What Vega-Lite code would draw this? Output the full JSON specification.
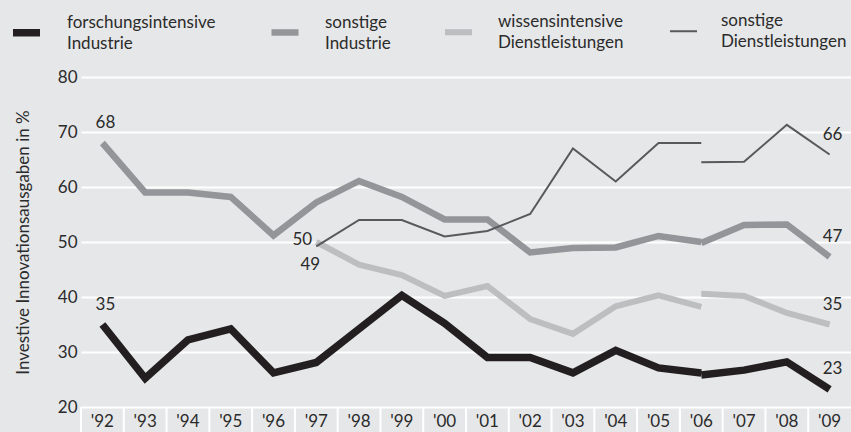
{
  "$schema": "https://vega.github.io/schema/vega-lite/v6.json",
  "width": 770,
  "height": 330,
  "autosize": {"type": "none"},
  "padding": {"left": 81, "top": 77, "right": 0, "bottom": 25},
  "background": "#e6e7e8",
  "config": {
    "view": {"stroke": null},
    "font": "Lato",
    "style": {"guide-label": {"lineHeight": 21, "lineBreak": "\n"}}
  },
  "data": {
    "values": [
      {"s": "forschungsintensive Industrie", "y": "'92", "v": 35, "g": "a"},
      {"s": "forschungsintensive Industrie", "y": "'93", "v": 25.2, "g": "a"},
      {"s": "forschungsintensive Industrie", "y": "'94", "v": 32.2, "g": "a"},
      {"s": "forschungsintensive Industrie", "y": "'95", "v": 34.2, "g": "a"},
      {"s": "forschungsintensive Industrie", "y": "'96", "v": 26.2, "g": "a"},
      {"s": "forschungsintensive Industrie", "y": "'97", "v": 28.1, "g": "a"},
      {"s": "forschungsintensive Industrie", "y": "'98", "v": 34.2, "g": "a"},
      {"s": "forschungsintensive Industrie", "y": "'99", "v": 40.3, "g": "a"},
      {"s": "forschungsintensive Industrie", "y": "'00", "v": 35.2, "g": "a"},
      {"s": "forschungsintensive Industrie", "y": "'01", "v": 29, "g": "a"},
      {"s": "forschungsintensive Industrie", "y": "'02", "v": 29, "g": "a"},
      {"s": "forschungsintensive Industrie", "y": "'03", "v": 26.2, "g": "a"},
      {"s": "forschungsintensive Industrie", "y": "'04", "v": 30.3, "g": "a"},
      {"s": "forschungsintensive Industrie", "y": "'05", "v": 27.1, "g": "a"},
      {"s": "forschungsintensive Industrie", "y": "'06", "v": 26.2, "g": "a"},
      {"s": "forschungsintensive Industrie", "y": "'06", "v": 25.8, "g": "b"},
      {"s": "forschungsintensive Industrie", "y": "'07", "v": 26.7, "g": "b"},
      {"s": "forschungsintensive Industrie", "y": "'08", "v": 28.2, "g": "b"},
      {"s": "forschungsintensive Industrie", "y": "'09", "v": 23.2, "g": "b"},
      {"s": "sonstige Industrie", "y": "'92", "v": 68, "g": "a"},
      {"s": "sonstige Industrie", "y": "'93", "v": 59, "g": "a"},
      {"s": "sonstige Industrie", "y": "'94", "v": 59, "g": "a"},
      {"s": "sonstige Industrie", "y": "'95", "v": 58.2, "g": "a"},
      {"s": "sonstige Industrie", "y": "'96", "v": 51.2, "g": "a"},
      {"s": "sonstige Industrie", "y": "'97", "v": 57.2, "g": "a"},
      {"s": "sonstige Industrie", "y": "'98", "v": 61.1, "g": "a"},
      {"s": "sonstige Industrie", "y": "'99", "v": 58.2, "g": "a"},
      {"s": "sonstige Industrie", "y": "'00", "v": 54.1, "g": "a"},
      {"s": "sonstige Industrie", "y": "'01", "v": 54.1, "g": "a"},
      {"s": "sonstige Industrie", "y": "'02", "v": 48.1, "g": "a"},
      {"s": "sonstige Industrie", "y": "'03", "v": 48.9, "g": "a"},
      {"s": "sonstige Industrie", "y": "'04", "v": 49, "g": "a"},
      {"s": "sonstige Industrie", "y": "'05", "v": 51.1, "g": "a"},
      {"s": "sonstige Industrie", "y": "'06", "v": 50, "g": "a"},
      {"s": "sonstige Industrie", "y": "'06", "v": 49.8, "g": "b"},
      {"s": "sonstige Industrie", "y": "'07", "v": 53.1, "g": "b"},
      {"s": "sonstige Industrie", "y": "'08", "v": 53.2, "g": "b"},
      {"s": "sonstige Industrie", "y": "'09", "v": 47.3, "g": "b"},
      {"s": "wissensintensive Dienstleistungen", "y": "'97", "v": 50, "g": "a"},
      {"s": "wissensintensive Dienstleistungen", "y": "'98", "v": 45.9, "g": "a"},
      {"s": "wissensintensive Dienstleistungen", "y": "'99", "v": 44, "g": "a"},
      {"s": "wissensintensive Dienstleistungen", "y": "'00", "v": 40.2, "g": "a"},
      {"s": "wissensintensive Dienstleistungen", "y": "'01", "v": 42, "g": "a"},
      {"s": "wissensintensive Dienstleistungen", "y": "'02", "v": 36, "g": "a"},
      {"s": "wissensintensive Dienstleistungen", "y": "'03", "v": 33.3, "g": "a"},
      {"s": "wissensintensive Dienstleistungen", "y": "'04", "v": 38.3, "g": "a"},
      {"s": "wissensintensive Dienstleistungen", "y": "'05", "v": 40.3, "g": "a"},
      {"s": "wissensintensive Dienstleistungen", "y": "'06", "v": 38.2, "g": "a"},
      {"s": "wissensintensive Dienstleistungen", "y": "'06", "v": 40.6, "g": "b"},
      {"s": "wissensintensive Dienstleistungen", "y": "'07", "v": 40.2, "g": "b"},
      {"s": "wissensintensive Dienstleistungen", "y": "'08", "v": 37.1, "g": "b"},
      {"s": "wissensintensive Dienstleistungen", "y": "'09", "v": 35, "g": "b"},
      {"s": "sonstige Dienstleistungen", "y": "'97", "v": 49.2, "g": "a"},
      {"s": "sonstige Dienstleistungen", "y": "'98", "v": 54, "g": "a"},
      {"s": "sonstige Dienstleistungen", "y": "'99", "v": 54, "g": "a"},
      {"s": "sonstige Dienstleistungen", "y": "'00", "v": 51, "g": "a"},
      {"s": "sonstige Dienstleistungen", "y": "'01", "v": 52, "g": "a"},
      {"s": "sonstige Dienstleistungen", "y": "'02", "v": 55.1, "g": "a"},
      {"s": "sonstige Dienstleistungen", "y": "'03", "v": 67, "g": "a"},
      {"s": "sonstige Dienstleistungen", "y": "'04", "v": 61, "g": "a"},
      {"s": "sonstige Dienstleistungen", "y": "'05", "v": 68, "g": "a"},
      {"s": "sonstige Dienstleistungen", "y": "'06", "v": 68, "g": "a"},
      {"s": "sonstige Dienstleistungen", "y": "'06", "v": 64.5, "g": "b"},
      {"s": "sonstige Dienstleistungen", "y": "'07", "v": 64.6, "g": "b"},
      {"s": "sonstige Dienstleistungen", "y": "'08", "v": 71.3, "g": "b"},
      {"s": "sonstige Dienstleistungen", "y": "'09", "v": 65.9, "g": "b"}
    ]
  },
  "encoding": {
    "x": {
      "field": "y",
      "type": "ordinal",
      "sort": null,
      "scale": {"type": "band", "paddingInner": 0, "paddingOuter": 0},
      "axis": {
        "title": null,
        "labelAngle": 0,
        "ticks": false,
        "domain": false,
        "grid": false,
        "labelPadding": 6,
        "labelFontSize": 17,
        "labelColor": "#2b2b2b"
      }
    },
    "y": {
      "field": "v",
      "type": "quantitative",
      "scale": {"domain": [20, 80], "nice": false, "zero": false},
      "axis": {
        "title": "Investive Innovationsausgaben in %",
        "values": [20, 30, 40, 50, 60, 70, 80],
        "grid": true,
        "gridColor": "white",
        "gridWidth": 2,
        "domain": false,
        "ticks": false,
        "labelPadding": 4,
        "labelFontSize": 17,
        "labelColor": "#2b2b2b",
        "titleFontSize": 17,
        "titleFontWeight": "normal",
        "titleColor": "#2b2b2b",
        "titlePadding": 25
      }
    }
  },
  "layer": [
    {
      "mark": {"type": "line", "strokeJoin": "miter", "strokeCap": "butt"},
      "encoding": {
        "color": {
          "field": "s",
          "type": "nominal",
          "scale": {
            "domain": ["forschungsintensive Industrie", "sonstige Industrie", "wissensintensive Dienstleistungen", "sonstige Dienstleistungen"],
            "range": ["#231f20", "#939598", "#bcbec0", "#58595b"]
          },
          "legend": {
            "title": null,
            "orient": "none",
            "legendX": -72,
            "legendY": -72,
            "direction": "horizontal",
            "padding": 0,
            "symbolType": "M-1,0.74L1,0.74",
            "symbolSize": 729,
            "symbolOpacity": 1,
            "labelOffset": 23,
            "columnPadding": 42,
            "labelFontSize": 17,
            "labelColor": "#2b2b2b",
            "labelLimit": 400,
            "labelExpr": "replace(datum.label, ' ', '\\n')"
          }
        },
        "strokeWidth": {
          "field": "s",
          "type": "nominal",
          "scale": {
            "type": "ordinal",
            "domain": ["forschungsintensive Industrie", "sonstige Industrie", "wissensintensive Dienstleistungen", "sonstige Dienstleistungen"],
            "range": [7.5, 6.5, 6, 2]
          },
          "legend": {
            "title": null,
            "orient": "none",
            "legendX": -72,
            "legendY": -72,
            "direction": "horizontal",
            "padding": 0,
            "symbolType": "M-1,0.74L1,0.74",
            "symbolSize": 729,
            "symbolOpacity": 1,
            "labelOffset": 23,
            "columnPadding": 42,
            "labelFontSize": 17,
            "labelColor": "#2b2b2b",
            "labelLimit": 400,
            "labelExpr": "replace(datum.label, ' ', '\\n')"
          }
        },
        "detail": {"field": "g"}
      }
    },
    {
      "data": {"values": [{"y": "'06"}]},
      "mark": {"type": "rule", "color": "white", "strokeWidth": 3, "strokeDash": [7, 4]},
      "encoding": {"x": {"field": "y", "type": "ordinal"}, "y": {"datum": 80}, "y2": {"datum": 20}}
    },
    {
      "transform": [{"filter": "datum.y == \"'92\" || datum.y == \"'09\""}],
      "mark": {"type": "text", "dy": -20, "dx": 3, "fontSize": 17, "color": "#2b2b2b"},
      "encoding": {"text": {"field": "v", "format": ".0f"}}
    },
    {
      "transform": [{"filter": "datum.y == \"'97\" && datum.s == 'wissensintensive Dienstleistungen'"}],
      "mark": {"type": "text", "dy": -2, "dx": -14, "fontSize": 17, "color": "#2b2b2b"},
      "encoding": {"text": {"field": "v", "format": ".0f"}}
    },
    {
      "transform": [{"filter": "datum.y == \"'97\" && datum.s == 'sonstige Dienstleistungen'"}],
      "mark": {"type": "text", "dy": 19, "dx": -6, "fontSize": 17, "color": "#2b2b2b"},
      "encoding": {"text": {"field": "v", "format": ".0f"}}
    },
    {
      "transform": [{"filter": "datum.s == 'forschungsintensive Industrie'"}],
      "mark": {"type": "rule", "color": "white", "strokeWidth": 2, "clip": false},
      "encoding": {
        "x": {"field": "y", "type": "ordinal", "bandPosition": 0},
        "y": {"datum": 20},
        "y2": {"datum": 15.45}
      }
    }
  ]
}
